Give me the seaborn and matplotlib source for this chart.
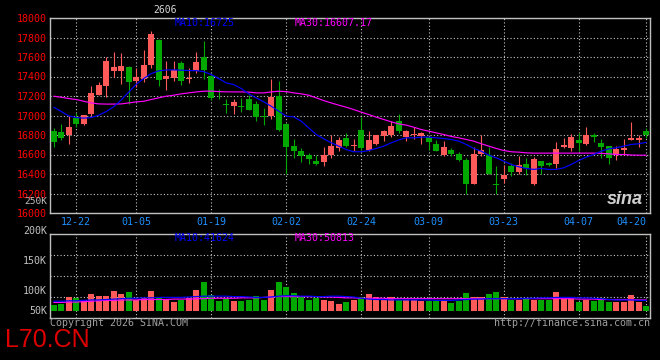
import numpy as np
import matplotlib
matplotlib.use("Agg")
import matplotlib.pyplot as plt
import seaborn as sns

# ---------------- data ----------------
OPEN = [16846, 16832, 16800, 16975, 16914, 17017, 17215, 17307, 17461, 17461,
        17500, 17355, 17375, 17519, 17775, 17372, 17380, 17540, 17372, 17460,
        17595, 17408, 17248, 17120, 17094, 17102, 17170, 17119, 16997, 16991,
        17200, 16915, 16690, 16641, 16590, 16532, 16522, 16600, 16662, 16771,
        16692, 16853, 16648, 16710, 16788, 16798, 16948, 16778, 16800, 16790,
        16778, 16710, 16593, 16648, 16607, 16546, 16293, 16610, 16593, 16300,
        16350, 16483, 16420, 16505, 16297, 16532, 16512, 16498, 16682, 16669,
        16750, 16710, 16805, 16713, 16689, 16593, 16648, 16744, 16744, 16846]
HIGH = [16873, 16914, 16990, 17027, 17010, 17300, 17345, 17604, 17655, 17640,
        17508, 17491, 17672, 17867, 17780, 17560, 17556, 17556, 17488, 17650,
        17765, 17420, 17272, 17167, 17165, 17182, 17210, 17147, 17078, 17375,
        17358, 16920, 16764, 16669, 16617, 16600, 16675, 16798, 16778, 16822,
        16764, 16989, 16846, 16805, 16856, 16942, 17017, 16856, 16887, 16835,
        16780, 16750, 16737, 16669, 16628, 16566, 16680, 16800, 16682, 16484,
        16496, 16515, 16585, 16565, 16575, 16535, 16525, 16730, 16771, 16812,
        16822, 16884, 16822, 16757, 16690, 16686, 16754, 16935, 16805, 16873]
LOW = [16675, 16744, 16710, 16887, 16901, 16990, 17208, 17194, 17392, 17326,
       17115, 17290, 17340, 17490, 17304, 17263, 17351, 17315, 17334, 17437,
       17375, 17160, 17172, 17030, 17020, 17039, 17052, 16942, 16907, 16959,
       16841, 16402, 16566, 16525, 16498, 16490, 16481, 16566, 16641, 16675,
       16634, 16651, 16634, 16696, 16737, 16778, 16822, 16737, 16760, 16703,
       16648, 16634, 16580, 16587, 16532, 16191, 16293, 16580, 16402, 16190,
       16308, 16375, 16395, 16385, 16290, 16402, 16481, 16464, 16668, 16641,
       16634, 16696, 16730, 16566, 16498, 16539, 16600, 16744, 16676, 16771]
CLOSE = [16730, 16771, 16880, 16915, 17000, 17232, 17317, 17563, 17502, 17510,
         17347, 17399, 17519, 17833, 17365, 17406, 17470, 17356, 17386, 17550,
         17469, 17180, 17238, 17110, 17142, 17092, 17060, 16989, 16989, 17193,
         16855, 16673, 16633, 16580, 16549, 16498, 16590, 16692, 16750, 16692,
         16700, 16662, 16744, 16798, 16846, 16897, 16839, 16839, 16815, 16822,
         16730, 16641, 16675, 16607, 16546, 16300, 16600, 16648, 16402, 16286,
         16394, 16420, 16497, 16459, 16555, 16481, 16490, 16658, 16696, 16781,
         16723, 16798, 16778, 16675, 16559, 16658, 16662, 16771, 16771, 16798]
MA10 = [17085, 17041, 16996, 16979, 16973, 16979, 17003, 17041, 17090, 17160,
        17240, 17320, 17380, 17430, 17458, 17467, 17468, 17465, 17461, 17460,
        17450, 17420, 17379, 17334, 17317, 17276, 17222, 17181, 17140, 17095,
        17044, 16993, 16985, 16942, 16873, 16805, 16761, 16720, 16686, 16651,
        16628, 16628, 16641, 16662, 16686, 16720, 16750, 16771, 16771, 16778,
        16778, 16771, 16764, 16754, 16737, 16703, 16662, 16634, 16593, 16566,
        16532, 16498, 16474, 16457, 16447, 16457, 16447, 16447, 16464, 16498,
        16539, 16573, 16600, 16634, 16658, 16669, 16686, 16703, 16710, 16725]
MA30 = [17198, 17187, 17174, 17164, 17146, 17129, 17119, 17117, 17117, 17119,
        17129, 17140, 17146, 17164, 17181, 17198, 17208, 17222, 17232, 17242,
        17249, 17250, 17245, 17243, 17242, 17242, 17240, 17232, 17232, 17242,
        17249, 17245, 17232, 17222, 17208, 17181, 17153, 17129, 17106, 17085,
        17061, 17034, 17010, 16983, 16959, 16935, 16914, 16901, 16880, 16856,
        16839, 16822, 16805, 16785, 16771, 16754, 16737, 16710, 16686, 16662,
        16641, 16628, 16624, 16617, 16614, 16614, 16614, 16614, 16614, 16614,
        16614, 16614, 16614, 16612, 16607, 16600, 16600, 16595, 16593, 16593]
VOLUME_K = [31, 33, 49, 47, 43, 57, 52, 52, 64, 57,
            62, 43, 48, 64, 49, 43, 38, 43, 48, 67,
            86, 54, 41, 46, 41, 41, 44, 52, 43, 67,
            86, 73, 60, 49, 43, 48, 43, 40, 33, 38,
            43, 49, 57, 49, 46, 51, 43, 43, 43, 41,
            41, 41, 43, 36, 40, 60, 49, 49, 57, 62,
            49, 43, 43, 48, 43, 43, 43, 62, 46, 46,
            38, 43, 41, 48, 39, 38, 38, 55, 38, 29]
VOL_MA10_K = [40, 40, 41, 41, 42, 43, 43, 44, 45, 46,
              47, 47, 48, 48, 49, 49, 49, 49, 50, 51,
              52, 52, 52, 52, 51, 51, 50, 49, 49, 50,
              52, 53, 53, 52, 52, 51, 51, 52, 52, 51,
              50, 47, 45, 44, 44, 43, 43, 43, 43, 43,
              43, 42, 42, 42, 43, 44, 45, 45, 46, 46,
              46, 46, 46, 47, 47, 48, 48, 49, 49, 49,
              48, 48, 47, 46, 44, 43, 43, 43, 42, 42]
VOL_MA30_K = [37, 37, 38, 38, 39, 40, 41, 42, 42, 43,
              43, 43, 44, 44, 44, 44, 45, 45, 45, 46,
              46, 47, 47, 47, 47, 48, 48, 48, 49, 50,
              51, 51, 51, 51, 51, 51, 50, 50, 49, 48,
              48, 47, 47, 47, 47, 46, 46, 46, 46, 46,
              46, 46, 46, 46, 46, 46, 46, 46, 46, 46,
              46, 46, 46, 46, 46, 46, 46, 46, 46, 46,
              45, 45, 45, 44, 44, 44, 44, 44, 43, 43]
TICK_POS = [3, 11, 21, 31, 41, 50, 60, 70, 79]
TICK_LABELS = ["12-22", "01-05", "01-19", "02-02", "02-24", "03-09", "03-23", "04-07", "04-20"]
PRICE_TICKS = list(range(16000, 18001, 200))
VOL_TICKS = [50, 100, 150]
VOL_TICK_LABELS = ["200K", "150K", "100K", "50K"]
TITLE = "2606"
MA_PRICE_TEXT = ["MA10:16725", "MA30:16607.17"]
MA_VOL_TEXT = ["MA10:41624", "MA30:50813"]

# ---------------- style ----------------
sns.set_theme(style="dark")
plt.rcParams['font.family'] = ['DejaVu Sans Mono']
plt.rcParams['axes.facecolor'] = 'black'
plt.rcParams['figure.facecolor'] = 'black'

UP = '#FF5A5A'
DOWN = '#00A800'
GRID = dict(color='#C8C8C8', linestyle=(0, (1, 2)), linewidth=0.8)
FRAME = '#C0C0C0'
FS = 7.2

W, H = 660, 360
fig = plt.figure(figsize=(6.6, 3.6), dpi=100, facecolor='black')


def fx(x):
    return x / W


def fy(y):
    return 1 - y / H


ax = fig.add_axes([fx(50), fy(213), 600 / W, 195 / H])
axv = fig.add_axes([fx(50), fy(318), 600 / W, 84 / H])

o = np.array(OPEN, float)
h = np.array(HIGH, float)
l = np.array(LOW, float)
c = np.array(CLOSE, float)
idx = np.arange(len(o))
up = c >= o
cols = np.where(up, UP, DOWN)

for a in (ax, axv):
    a.set_facecolor('black')
    for s in a.spines.values():
        s.set_color(FRAME)
        s.set_linewidth(1.0)
    a.set_xlim(-0.5, len(o) - 0.5)
    a.set_xticks(TICK_POS)
    a.grid(True, **GRID)
    a.set_axisbelow(True)

# price panel
ax.vlines(idx, l, h, colors=cols, linewidth=0.8, zorder=2)
body_bottom = np.minimum(o, c)
body_h = np.maximum(np.abs(c - o), 8)
ax.bar(idx, body_h, bottom=body_bottom, width=0.8, color=cols, linewidth=0, zorder=3)
sns.lineplot(x=idx, y=MA30, ax=ax, color='#FF00FF', linewidth=0.85, zorder=4)
sns.lineplot(x=idx, y=MA10, ax=ax, color='#0000FF', linewidth=0.85, zorder=5)
ax.set_ylim(16000, 18000)
ax.set_yticks(PRICE_TICKS)
ax.set_yticklabels([str(v) for v in PRICE_TICKS])
ax.tick_params(axis='y', colors='#FF0000', length=0, pad=2, labelsize=FS)
ax.set_xticklabels(TICK_LABELS)
ax.tick_params(axis='x', colors='#1E90FF', length=0, pad=3, labelsize=FS)
ax.get_xticklabels()[-1].set_horizontalalignment('right')
ax.set_xlabel('')
ax.set_ylabel('')

# volume panel
vol = np.array(VOLUME_K, float)
base = 16
axv.bar(idx, vol - base, bottom=base, width=0.8, color=cols, linewidth=0, zorder=3)
sns.lineplot(x=idx, y=VOL_MA30_K, ax=axv, color='#FF00FF', linewidth=0.85, zorder=4)
sns.lineplot(x=idx, y=VOL_MA10_K, ax=axv, color='#0000FF', linewidth=0.85, zorder=5)
axv.set_ylim(0, 200)
axv.set_yticks(VOL_TICKS)
axv.set_yticklabels([])
axv.set_xticklabels([])
axv.tick_params(length=0)
axv.set_xlabel('')
axv.set_ylabel('')

# volume axis labels (Sina places them offset from grid)
for lab, ypx in zip(VOL_TICK_LABELS, [231, 261, 291, 311]):
    fig.text(fx(47), fy(ypx), lab, ha='right', va='center', color='#C0C0C0', fontsize=FS)
fig.text(fx(47), fy(202), "250K", ha='right', va='center', color='#C0C0C0', fontsize=6.8)

# texts
fig.text(fx(165), fy(10), TITLE, ha='center', va='center', color='#D8D8D8', fontsize=7)
fig.text(fx(175), fy(23), MA_PRICE_TEXT[0], ha='left', va='center', color='#0000FF', fontsize=FS)
fig.text(fx(295), fy(23), MA_PRICE_TEXT[1], ha='left', va='center', color='#FF00FF', fontsize=FS)
fig.text(fx(175), fy(238), MA_VOL_TEXT[0], ha='left', va='center', color='#0000FF', fontsize=FS)
fig.text(fx(295), fy(238), MA_VOL_TEXT[1], ha='left', va='center', color='#FF00FF', fontsize=FS)
fig.text(fx(50), fy(323), "Copyright 2026 SINA.COM", ha='left', va='center', color='#A0A0A0', fontsize=FS)
fig.text(fx(650), fy(323), "http://finance.sina.com.cn", ha='right', va='center', color='#A0A0A0', fontsize=FS)
fig.text(fx(5), fy(340), "L70.CN", ha='left', va='center', color='#DD0000', fontsize=18,
         family=['Liberation Sans', 'DejaVu Sans'])
fig.text(fx(625), fy(199), "sina", ha='center', va='center', color='#D0D0D0', fontsize=13,
         fontweight='bold', fontstyle='italic', family=['Liberation Sans', 'DejaVu Sans'])

fig.savefig('out.png', dpi=100, facecolor='black')
